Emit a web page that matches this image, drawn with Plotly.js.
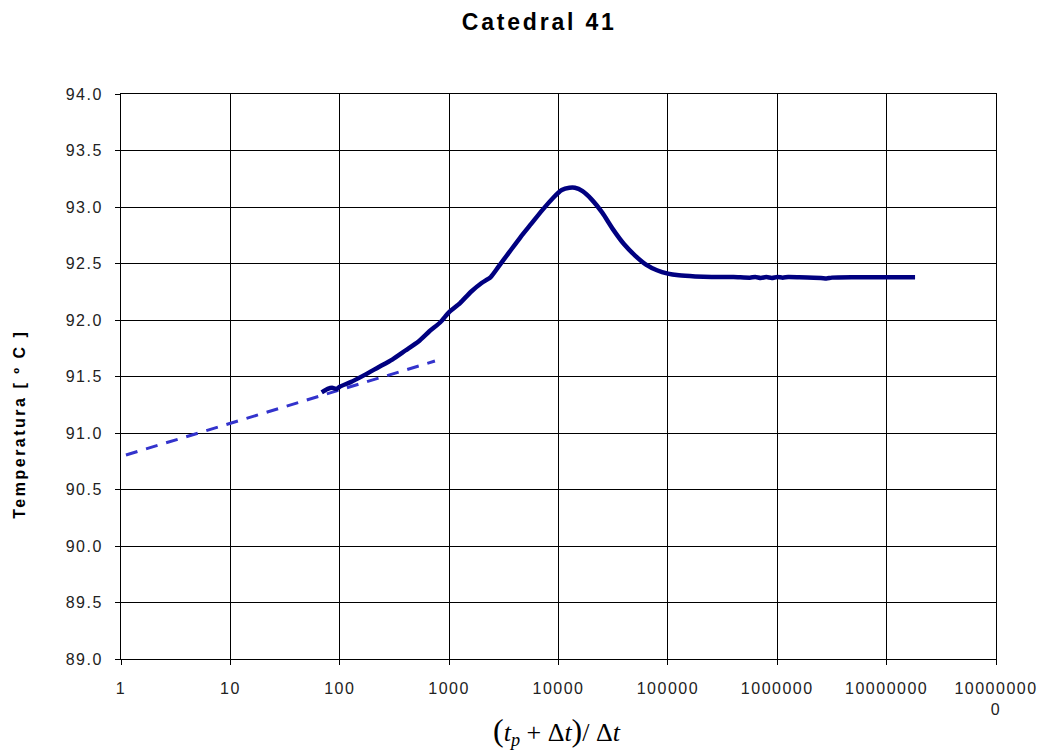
<!DOCTYPE html>
<html>
<head>
<meta charset="utf-8">
<script src="https://cdn.plot.ly/plotly-3.0.1.min.js"></script>
<style>
html,body{margin:0;padding:0;background:#fff}
#chart{width:1047px;height:753px}
#chart .xtick text, #chart .ytick text{letter-spacing:1.5px}
#chart .gtitle{letter-spacing:2.8px}
#chart .ytitle-ann text{letter-spacing:2.5px}
</style>
</head>
<body>
<div id="chart"></div>
<script>
// Measured curve: Horner time ratio (tp+dt)/dt vs temperature
const hornerTime = [68.4, 77.6, 85.1, 93.3, 100, 125.9, 166, 223.9, 302, 398.1, 524.8, 660.7, 831.8, 1000,
  1258.9, 1584.9, 1995.3, 2398.8, 2818.4, 3548.1, 4466.8, 5623.4, 7079.5, 8912.5, 10715, 12589, 14125,
  16596, 19953, 25119, 31623, 39811, 50119, 63096, 79433, 100000, 125893, 177828, 251189, 398107,
  562341, 630957, 707946, 794328, 891251, 1000000, 1122018, 1258925, 1584893, 2511886, 2818383,
  3162278, 5011872, 10000000, 18197009];
const temperature = [91.36, 91.39, 91.40, 91.39, 91.41, 91.45, 91.51, 91.58, 91.65, 91.73, 91.81, 91.90, 91.98, 92.07,
  92.15, 92.25, 92.33, 92.38, 92.47, 92.60, 92.73, 92.85, 92.97, 93.08, 93.15, 93.17,
  93.17, 93.14, 93.07, 92.95, 92.80, 92.67, 92.57, 92.49, 92.44, 92.41, 92.395, 92.385, 92.38, 92.38,
  92.375, 92.38, 92.372, 92.38, 92.372, 92.38, 92.375, 92.38, 92.378, 92.372, 92.368,
  92.375, 92.378, 92.378, 92.378];
// Straight-line (semilog) fit
const fitTime = [1.11, 742];
const fitTemp = [90.805, 91.637];
// Axis ticks and texts
const xTickVals = [1, 10, 100, 1000, 10000, 100000, 1000000, 10000000, 100000000];
const xTickText = ["1", "10", "100", "1000", "10000", "100000", "1000000", "10000000", "10000000<br>0"];
const yTickVals = [89.0, 89.5, 90.0, 90.5, 91.0, 91.5, 92.0, 92.5, 93.0, 93.5, 94.0];
const yTickText = yTickVals.map(v => v.toFixed(1));
const chartTitle = 'Catedral 41';
const yTitle = 'Temperatura [ º C ]';
const xTitle = "<span style='font-size:32px'>(</span><i>t</i><sub><i>p</i></sub> + Δ<i>t</i><span style='font-size:32px'>)</span>/ Δ<i>t</i>";

const traces = [
  {x: fitTime, y: fitTemp, mode: 'lines', type: 'scatter',
   line: {color: '#3333CC', width: 3, dash: '12px,9px'}, hoverinfo: 'skip'},
  {x: hornerTime, y: temperature, mode: 'lines', type: 'scatter',
   line: {color: '#000080', width: 4.5, shape: 'spline', smoothing: 0.6}}
];

const layout = {
  width: 1047, height: 753,
  margin: {l: 121, r: 51, t: 94, b: 94},
  paper_bgcolor: '#fff', plot_bgcolor: '#fff',
  showlegend: false,
  font: {family: 'Liberation Sans, Arial, sans-serif', color: '#222', size: 16},
  title: {text: '<b>' + chartTitle + '</b>', x: 0.515, xanchor: 'center', y: 0.971, yanchor: 'middle',
          font: {family: 'Liberation Sans, Arial, sans-serif', size: 23, color: '#000'}},
  xaxis: {
    type: 'log', range: [0, 8],
    tickvals: xTickVals, ticktext: xTickText,
    ticks: 'outside', ticklen: 5, tickcolor: '#000', ticklabelstandoff: 10,
    showgrid: true, gridcolor: '#000', gridwidth: 1,
    showline: true, linecolor: '#000', linewidth: 1, mirror: true,
    zeroline: false,
    tickfont: {size: 16, color: '#222'}
  },
  yaxis: {
    range: [89, 94],
    tickvals: yTickVals, ticktext: yTickText,
    ticks: 'outside', ticklen: 5, tickcolor: '#000', ticklabelstandoff: 9,
    showgrid: true, gridcolor: '#000', gridwidth: 1,
    showline: true, linecolor: '#000', linewidth: 1, mirror: true,
    zeroline: false,
    tickfont: {size: 16, color: '#222'}
  },
  annotations: [
    {text: '<b>' + yTitle + '</b>', xref: 'paper', yref: 'paper', x: -0.1154, y: 0.416,
     xanchor: 'center', yanchor: 'middle', textangle: -90, showarrow: false,
     font: {family: 'Liberation Sans, Arial, sans-serif', size: 16, color: '#000'}},
    {text: xTitle, xref: 'paper', yref: 'paper', x: 0.498, y: -0.128,
     xanchor: 'center', yanchor: 'middle', showarrow: false,
     font: {family: 'Liberation Serif, Times New Roman, serif', size: 26, color: '#000'}}
  ]
};

Plotly.newPlot('chart', traces, layout, {displayModeBar: false, staticPlot: true}).then(() => {
  const anns = document.querySelectorAll('#chart .annotation');
  if (anns[0]) anns[0].classList.add('ytitle-ann');
});
</script>
</body>
</html>
